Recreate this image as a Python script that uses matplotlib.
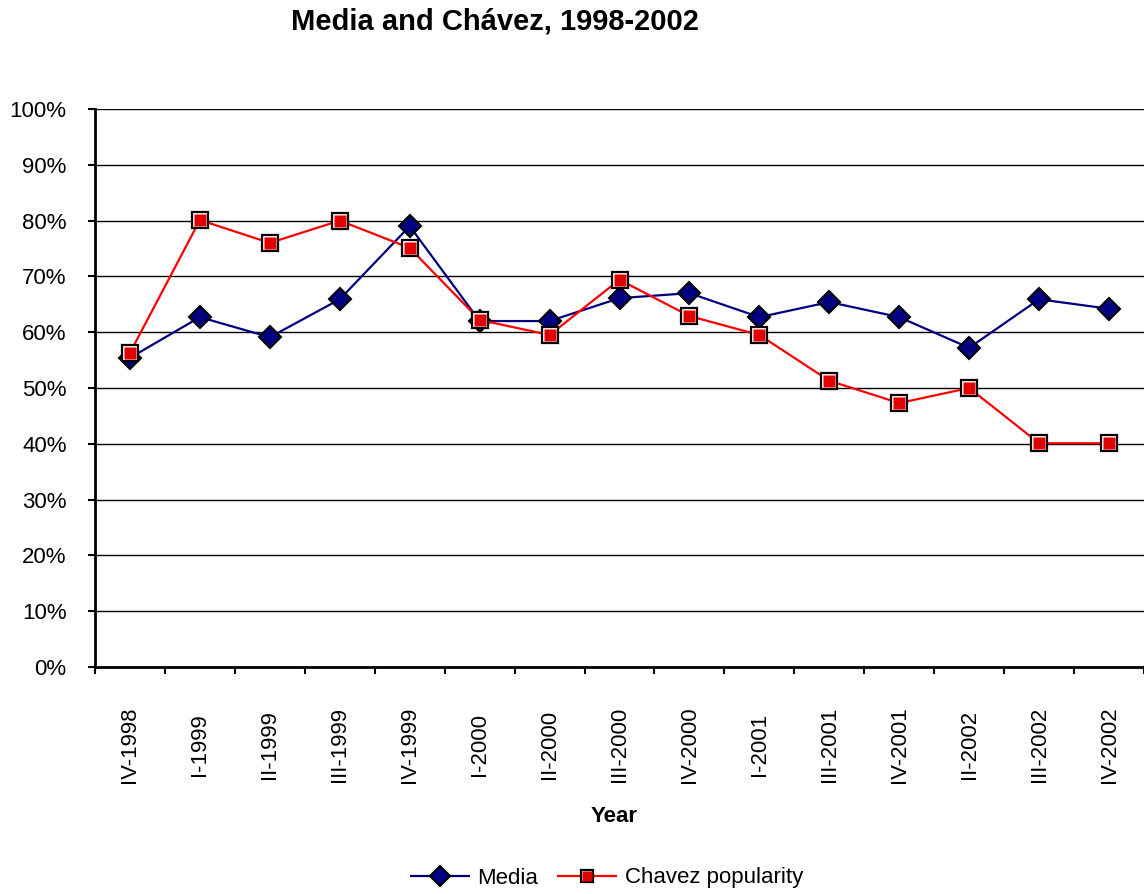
import matplotlib
matplotlib.use('Agg')
import matplotlib.pyplot as plt
from matplotlib.ticker import PercentFormatter
from matplotlib.legend_handler import HandlerTuple

plt.rcParams['font.family'] = ['Liberation Sans', 'DejaVu Sans']

quarters = ['IV-1998', 'I-1999', 'II-1999', 'III-1999', 'IV-1999', 'I-2000',
            'II-2000', 'III-2000', 'IV-2000', 'I-2001', 'III-2001', 'IV-2001',
            'II-2002', 'III-2002', 'IV-2002']
media = [55.4, 62.7, 59.1, 65.9, 79.0, 62.0, 62.0, 66.1, 67.0, 62.7, 65.4,
         62.7, 57.2, 65.9, 64.2]
chavez = [56.3, 80.1, 76.0, 80.0, 75.1, 62.2, 59.5, 69.4, 62.9, 59.5, 51.3,
          47.3, 50.0, 40.1, 40.1]

NAVY = '#000080'
RED = '#e00000'
FS = 16

fig = plt.figure(figsize=(11.44, 8.94), dpi=100)
ax = fig.add_axes([95 / 1144, 1 - 667 / 894, 1 - 95 / 1144, (667 - 109) / 894])

x = list(range(len(quarters)))
m_line, = ax.plot(x, media, color=NAVY, lw=1.6, marker='D', ms=11.5,
                  mfc=NAVY, mec='black', mew=1.5, zorder=3)
c_line, = ax.plot(x, chavez, color='#ff0000', lw=1.6, marker='s', ms=11,
                  mfc='white', mec='black', mew=1.6, zorder=4)
c_fill, = ax.plot(x, chavez, ls='none', marker='s', ms=8.2, mfc=RED,
                  mec='none', zorder=5)

ax.set_xlim(-0.5, len(quarters) - 0.5)
ax.set_ylim(0, 100)
ax.set_yticks(range(0, 101, 10))
ax.yaxis.set_major_formatter(PercentFormatter(decimals=0))
ax.grid(axis='y', color='black', lw=1)
ax.set_axisbelow(True)

for side in ['top', 'right']:
    ax.spines[side].set_visible(False)
for side in ['left', 'bottom']:
    ax.spines[side].set_linewidth(2)

# boundaries get the tick marks, category centres get the labels
ax.set_xticks([i - 0.5 for i in range(len(quarters) + 1)])
ax.set_xticklabels([])
ax.set_xticks(x, minor=True)
ax.set_xticklabels(quarters, minor=True, rotation=90, fontsize=FS)
ax.tick_params(axis='x', which='major', length=5, width=1.5, direction='out')
ax.tick_params(axis='x', which='minor', length=0, pad=56)
for lab in ax.get_xticklabels(minor=True):
    lab.set_va('center')
ax.tick_params(axis='y', length=5, width=1.5, pad=15.5, labelsize=FS)

ax.set_xlabel('Year', fontsize=FS, fontweight='bold', va='center')
ax.xaxis.set_label_coords(0.495, -(817 - 667) / 558)

fig.text(495 / 1144, 1 - 22 / 894, 'Media and Chávez, 1998-2002',
         ha='center', va='center', fontsize=21, fontweight='bold')

fig.legend([m_line, (c_line, c_fill)], ['Media', 'Chavez popularity'],
           handler_map={tuple: HandlerTuple(ndivide=1, pad=0)},
           loc='center', bbox_to_anchor=(607 / 1144, 1 - 878 / 894),
           ncol=2, frameon=False, fontsize=FS, handlelength=2.6,
           handletextpad=0.4, columnspacing=0.9, markerscale=0.85)

fig.savefig('out.png', dpi=100)
